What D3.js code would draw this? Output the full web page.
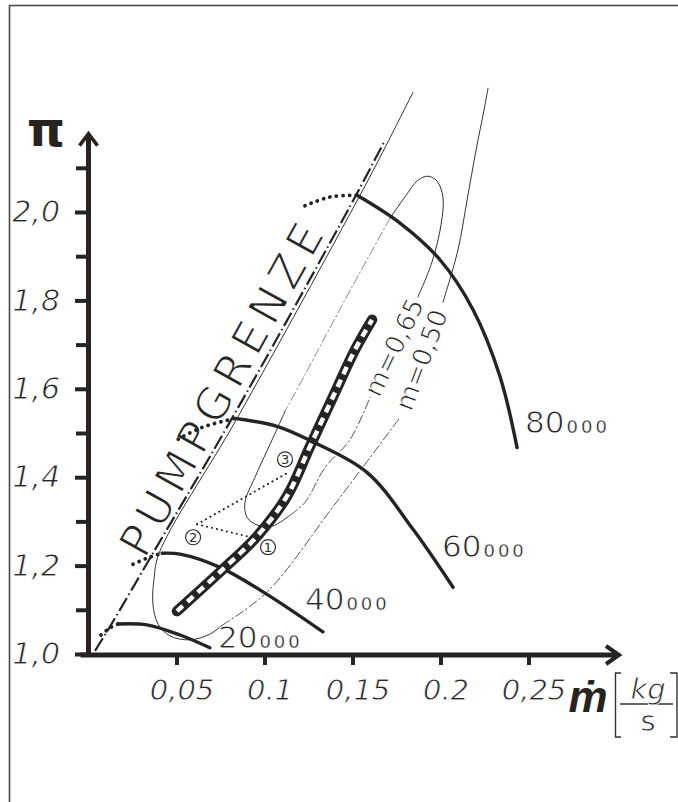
<!DOCTYPE html>
<html>
<head>
<meta charset="utf-8">
<script src="https://cdn.jsdelivr.net/npm/d3@7"></script>
<style>
body { margin: 0; background: #fff; }
</style>
</head>
<body>
<div class="chart"></div>
<script>
// values, [mass flow kg/s, pressure ratio]
const speed20 = [[0.0168,1.068],[0.0332,1.066],[0.052,1.043],[0.069,1.014]];
const speed40 = [[0.0418,1.228],[0.052,1.226],[0.0747,1.196],[0.1014,1.135],[0.1332,1.050]];
const speed60 = [[0.0832,1.533],[0.1071,1.515],[0.1259,1.483],[0.1582,1.411],[0.1844,1.282],[0.2071,1.151]];
const speed80 = [[0.1526,2.038],[0.177,1.975],[0.1997,1.892],[0.2185,1.779],[0.2338,1.628],[0.2435,1.467]];
const speedLabels = ["20000", "40000", "60000", "80000"];

// dotted extensions left of the surge line
const dots20 = [[0.0071,1.043],[0.0122,1.059],[0.0168,1.068]];
const dots40 = [[0.0253,1.203],[0.034,1.218],[0.0418,1.228]];
const dots60 = [[0.051,1.486],[0.064,1.512],[0.0832,1.533]];
const dots80 = [[0.123,2.014],[0.1372,2.034],[0.1526,2.038]];

// surge line (Pumpgrenze)
const surge = [[0.0037,1.007],[0.0134,1.070],[0.0366,1.228],[0.0815,1.533],[0.152,2.038],[0.1685,2.163]];

// efficiency 0.50 contour
const eta50Left = [[0.1844,2.271],[0.1707,2.163],[0.1543,2.038],[0.0844,1.533],[0.0401,1.228],[0.0372,1.169],
  [0.0366,1.113],[0.0395,1.068],[0.0463,1.041],[0.0577,1.032],[0.069,1.045],[0.0759,1.065]];
const eta50Lower = [[0.0759,1.065],[0.1014,1.140],[0.14,1.339],[0.177,1.535]];
const eta50Upper = [[0.2014,1.796],[0.2099,1.914],[0.2151,2.027],[0.2202,2.140],[0.2247,2.230],[0.227,2.280]];

// efficiency 0.65 contour
const eta65Top = [[0.1872,1.808],[0.1952,1.887],[0.2003,1.971],[0.2014,2.034],[0.198,2.070],[0.1929,2.081],
  [0.1872,2.072],[0.1798,2.034],[0.1713,1.986]];
const eta65Left = [[0.1713,1.986],[0.1457,1.801],[0.123,1.632],[0.1117,1.549]];
const eta65Bottom = [[0.1117,1.549],[0.1031,1.474],[0.0946,1.400],[0.0889,1.343],[0.0901,1.309],[0.0963,1.291],
  [0.1043,1.289],[0.1145,1.314]];
const eta65Right = [[0.1145,1.314],[0.123,1.343],[0.1344,1.422],[0.1486,1.485],[0.1599,1.580]];
const etaLabels = ["m=0,65", "m=0,50"];

// operating line
const opLine = [[0.0503,1.097],[0.0759,1.190],[0.0957,1.266],[0.1128,1.357],[0.1259,1.470],[0.14,1.591],[0.1514,1.688],[0.1611,1.756]];

// operating points 1, 2, 3
const opPoints = [[0.0946,1.262],[0.0617,1.2935],[0.1145,1.413]];
const opNames = ["1", "2", "3"];

// axes
const xTicks = [0.05, 0.1, 0.15, 0.2, 0.25];
const xTickLabels = ["0,05", "0.1", "0,15", "0.2", "0,25"];
const yTicks = [1.0, 1.2, 1.4, 1.6, 1.8, 2.0];
const yTickLabels = ["1,0", "1,2", "1,4", "1,6", "1,8", "2,0"];
const yMinor = [1.1, 1.3, 1.5, 1.7, 1.9, 2.1];

const width = 678, height = 802;
const ink = "#262321";
const font = "DejaVu Sans, sans-serif";

const svg = d3.select(".chart").append("svg")
    .attr("width", width)
    .attr("height", height);

// thin lettering: white stroke painted over the glyph edges
function thin(sel, w) {
    return sel.attr("font-family", font)
        .attr("fill", "#262626")
        .attr("stroke", "#fff")
        .attr("stroke-width", w);
}

// frame of the scanned page
svg.append("rect")
    .attr("x", 9.5).attr("y", 5.5)
    .attr("width", 720).attr("height", 830)
    .attr("fill", "none").attr("stroke", "#4a4a4a").attr("stroke-width", 1.6);

// scales
const x = d3.scaleLinear().domain([0, 0.25]).range([88.5, 528.5]);
const y = d3.scaleLinear().domain([1, 2]).range([654, 212]);

const line = d3.line()
    .x(d => x(d[0]))
    .y(d => y(d[1]))
    .curve(d3.curveCatmullRom.alpha(0.5));

function draw(data, stroke, sw, dash) {
    return svg.append("path")
        .datum(data)
        .attr("d", line)
        .attr("fill", "none")
        .attr("stroke", stroke)
        .attr("stroke-width", sw)
        .attr("stroke-dasharray", dash || null)
        .attr("stroke-linecap", "round");
}

// PUMPGRENZE along the surge line
thin(svg.append("text"), 1.5)
    .attr("transform", "translate(145,560) rotate(-61)")
    .attr("font-size", 45)
    .attr("textLength", 372)
    .attr("lengthAdjust", "spacing")
    .text("PUMPGRENZE");

// efficiency contours
draw(eta50Left, "#333", 1);
draw(eta50Lower, "#555", 1, "9,3,1.5,3");
draw(eta50Upper, "#333", 1);
draw(eta65Top, "#333", 1);
draw(eta65Left, "#888", 1, "9,3,1.5,3");
draw(eta65Bottom, "#333", 1);
draw(eta65Right, "#555", 1, "9,3,1.5,3");

// surge line
draw(surge, ink, 2.2, "15,3.5,1.5,3.5").attr("stroke-linecap", "butt");

// speed lines with dotted extensions
[speed20, speed40, speed60, speed80].forEach(s => draw(s, ink, 3.4));
[dots20, dots40, dots60, dots80].forEach(s => draw(s, ink, 3.8, "0.1,6.5"));

// speed labels, trailing zeros small
const labelOffsets = [[8, 0], [-18, -22], [-11, -30], [8, -15]];
[speed20, speed40, speed60, speed80].forEach((s, i) => {
    const end = s[s.length - 1];
    const t = thin(svg.append("text"), 0.9)
        .attr("x", x(end[0]) + labelOffsets[i][0])
        .attr("y", y(end[1]) + labelOffsets[i][1])
        .attr("font-size", 31);
    t.append("tspan").text(speedLabels[i].slice(0, 2));
    t.append("tspan").attr("font-size", 18).attr("stroke-width", 0.3)
        .attr("letter-spacing", 3).attr("dx", 2).text(speedLabels[i].slice(2));
});

// efficiency labels, set into the gap of each contour
[[eta65Right, eta65Top], [eta50Lower, eta50Upper]].forEach((pair, i) => {
    const a = pair[0][pair[0].length - 1], b = pair[1][0];
    const cx = (x(a[0]) + x(b[0])) / 2, cy = (y(a[1]) + y(b[1])) / 2;
    const ang = Math.atan2(y(b[1]) - y(a[1]), x(b[0]) - x(a[0])) * 180 / Math.PI;
    thin(svg.append("text"), 0.8)
        .attr("transform", `translate(${cx},${cy}) rotate(${ang})`)
        .attr("text-anchor", "middle")
        .attr("dominant-baseline", "central")
        .attr("font-size", 26)
        .text(etaLabels[i]);
});

// operating points and dotted links
draw([opPoints[1], opPoints[0]], ink, 2, "0.1,5");
draw([opPoints[1], opPoints[2]], ink, 2, "0.1,5");

// operating line: thick black with white dashes
draw(opLine, ink, 10.5);
draw(opLine, "#fff", 4.5, "8,6").attr("stroke-linecap", "butt");

const circleOffsets = [[13, 9], [-4, 13], [-5, -12]];
opPoints.forEach((p, i) => {
    const cx = x(p[0]) + circleOffsets[i][0], cy = y(p[1]) + circleOffsets[i][1];
    svg.append("circle").attr("cx", cx).attr("cy", cy).attr("r", 7.5)
        .attr("fill", "#fff").attr("stroke", "#333").attr("stroke-width", 1.2);
    svg.append("text").attr("x", cx).attr("y", cy + 5)
        .attr("text-anchor", "middle").attr("font-size", 13)
        .attr("font-family", font).attr("fill", "#2b2b2b")
        .text(opNames[i]);
});

// axes
const yAxis = d3.axisLeft(y)
    .tickValues(yTicks)
    .tickFormat((d, i) => yTickLabels[i])
    .tickSize(11)
    .tickPadding(15);

const yAxisMinor = d3.axisLeft(y)
    .tickValues(yMinor)
    .tickFormat("")
    .tickSize(10);

const xAxis = d3.axisBottom(x)
    .tickValues(xTicks)
    .tickFormat((d, i) => xTickLabels[i])
    .tickSize(8)
    .tickPadding(14);

const yAxisG = svg.append("g").attr("transform", "translate(86,0)").call(yAxis);
const yMinorG = svg.append("g").attr("transform", "translate(86,0)").call(yAxisMinor);
const xAxisG = svg.append("g").attr("transform", "translate(0,657)").call(xAxis);

[yAxisG, yMinorG, xAxisG].forEach(g => {
    g.select(".domain").remove();
    g.selectAll(".tick line").attr("stroke", ink).attr("stroke-width", 4);
    thin(g.selectAll(".tick text"), 0.8)
        .attr("font-style", "italic")
        .attr("font-size", 30);
});
xAxisG.selectAll(".tick text").attr("dx", 5).attr("font-size", 29);

// axis lines with arrow heads
svg.append("line")
    .attr("x1", x(0)).attr("x2", x(0))
    .attr("y1", y(1) + 3).attr("y2", y(2.2) + 12)
    .attr("stroke", ink).attr("stroke-width", 5);
svg.append("path")
    .attr("d", `M${x(0) - 9},${y(2.2) + 22} L${x(0)},${y(2.2) + 10} L${x(0) + 9},${y(2.2) + 22}`)
    .attr("fill", "none").attr("stroke", ink).attr("stroke-width", 3.5);

svg.append("line")
    .attr("x1", x(0) - 8).attr("x2", 617)
    .attr("y1", y(1) + 1).attr("y2", y(1) + 1)
    .attr("stroke", ink).attr("stroke-width", 5);
svg.append("path")
    .attr("d", `M606,${y(1) - 8} L619,${y(1) + 1} L606,${y(1) + 10}`)
    .attr("fill", "none").attr("stroke", ink).attr("stroke-width", 4);

// axis titles
svg.append("text")
    .attr("x", 46).attr("y", 146)
    .attr("text-anchor", "middle")
    .attr("font-family", "DejaVu Sans, sans-serif")
    .attr("font-weight", 700)
    .attr("font-size", 48)
    .attr("fill", ink)
    .text("π");

svg.append("text")
    .attr("x", 588).attr("y", 712)
    .attr("text-anchor", "middle")
    .attr("font-family", "Liberation Sans Narrow, Liberation Sans, sans-serif")
    .attr("font-weight", 700)
    .attr("font-style", "italic")
    .attr("font-size", 44)
    .attr("fill", ink)
    .text("ṁ");

// unit [kg/s]
svg.append("path")
    .attr("d", "M621,673 H615.5 V737 H621 M670,673 H677 V737 H670 M620,704 H673")
    .attr("fill", "none").attr("stroke", "#333").attr("stroke-width", 1.4);
thin(svg.append("text"), 0.8).attr("x", 648).attr("y", 699).attr("text-anchor", "middle")
    .attr("font-size", 29).attr("font-style", "italic").text("kg");
thin(svg.append("text"), 0.8).attr("x", 648).attr("y", 731).attr("text-anchor", "middle")
    .attr("font-size", 29).text("s");
</script>
</body>
</html>
